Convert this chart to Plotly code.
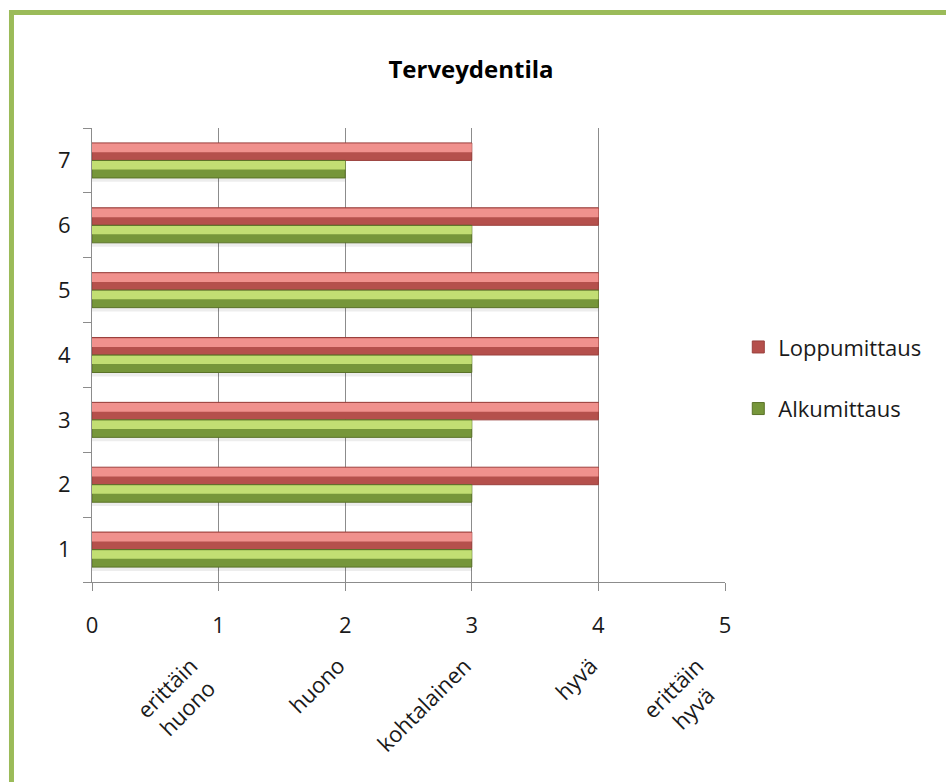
import plotly.graph_objects as go

categories = ["1", "2", "3", "4", "5", "6", "7"]
loppumittaus = [3, 4, 4, 4, 4, 4, 3]
alkumittaus = [3, 3, 3, 3, 4, 3, 2]
x_ticks = [0, 1, 2, 3, 4, 5]
scale_positions = [1, 2, 3, 4, 5]
scale_labels = ["erittäin<br>huono", "huono", "kohtalainen", "hyvä", "erittäin<br>hyvä"]

FONT = "Open Sans"
RED_BASE = "#B5504C"
RED_LIGHT = "#F0918D"
GREEN_BASE = "#76963A"
GREEN_LIGHT = "#C2DE73"
BAR_W = 0.27

fig = go.Figure()
# soft shadow under each bar pair
fig.add_trace(go.Bar(
    y=categories, x=alkumittaus, orientation="h", name="shadow",
    offset=-BAR_W - 0.06, width=0.06, showlegend=False, hoverinfo="skip",
    marker=dict(color="rgba(0,0,0,0.07)", line=dict(width=0))))
# Loppumittaus (red) above category centre
fig.add_trace(go.Bar(
    y=categories, x=loppumittaus, orientation="h", name="Loppumittaus",
    legendgroup="lopp", offset=0.0, width=BAR_W, legendrank=1,
    marker=dict(color=RED_BASE, line=dict(color="#9A403D", width=1)),
    hoverinfo="x+y"))
fig.add_trace(go.Bar(
    y=categories, x=loppumittaus, orientation="h", name="Loppumittaus",
    legendgroup="lopp", offset=0.125, width=0.135, showlegend=False,
    hoverinfo="skip", marker=dict(color=RED_LIGHT, line=dict(width=0))))
# Alkumittaus (green) below category centre
fig.add_trace(go.Bar(
    y=categories, x=alkumittaus, orientation="h", name="Alkumittaus",
    legendgroup="alku", offset=-BAR_W, width=BAR_W, legendrank=2,
    marker=dict(color=GREEN_BASE, line=dict(color="#5A7228", width=1)),
    hoverinfo="x+y"))
fig.add_trace(go.Bar(
    y=categories, x=alkumittaus, orientation="h", name="Alkumittaus",
    legendgroup="alku", offset=-0.14, width=0.13, showlegend=False,
    hoverinfo="skip", marker=dict(color=GREEN_LIGHT, line=dict(width=0))))

# rotated scale labels under the axis
for pos, lab in zip(scale_positions, scale_labels):
    fig.add_annotation(
        x=pos, y=-0.145, xref="x", yref="paper", text=lab, showarrow=False,
        textangle=-45, xanchor="right", yanchor="top", xshift=8,
        align="center", font=dict(family=FONT, size=22, color="#1a1a1a"))

# outer green frame
fig.add_shape(type="rect", xref="paper", yref="paper",
              x0=-0.1272, x1=2.0, y0=-1.0, y1=1.2544,
              line=dict(color="#9BBB59", width=5), fillcolor="rgba(0,0,0,0)",
              layer="above")

fig.update_layout(
    width=946, height=782,
    margin=dict(l=92, r=221, t=128, b=200, pad=0),
    paper_bgcolor="white", plot_bgcolor="white",
    barmode="overlay",
    title=dict(text="<b>Terveydentila</b>", x=471 / 946, xanchor="center",
               y=1 - 70 / 782, yanchor="middle",
               font=dict(family=FONT, size=24, color="#000000")),
    font=dict(family=FONT, size=22, color="#1a1a1a"),
    xaxis=dict(range=[0, 5], tickvals=x_ticks, showgrid=True,
               gridcolor="#8C8C8C", gridwidth=1, showline=True,
               linecolor="#8C8C8C", linewidth=1, ticks="outside",
               ticklen=8, tickcolor="#8C8C8C", zeroline=False,
               ticklabelstandoff=16, fixedrange=True),
    yaxis=dict(type="category", categoryorder="array", categoryarray=categories,
               range=[-0.5, 6.5], showline=True, linecolor="#8C8C8C",
               linewidth=1, ticks="outside", ticklen=8, tickcolor="#8C8C8C",
               tickson="boundaries", showgrid=False, ticklabelstandoff=16,
               fixedrange=True),
    legend=dict(x=1.021, xanchor="left", y=0.449, yanchor="middle",
                traceorder="grouped", tracegroupgap=30,
                font=dict(family=FONT, size=22, color="#1a1a1a"),
                bgcolor="rgba(0,0,0,0)"),
    showlegend=True,
)

fig.write_html("out.html")
